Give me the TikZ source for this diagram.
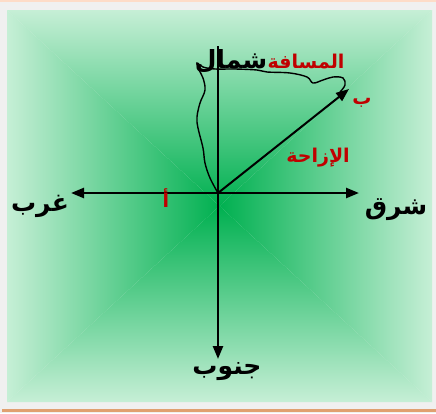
\documentclass[tikz,border=0pt]{standalone}
\usepackage{fontspec}
\usepackage{tikz}
\usetikzlibrary{arrows.meta,positioning}
\TeXXeTstate=1
\newfontfamily\arabicfont[Script=Arabic]{DejaVu Sans}
\definecolor{PageGray}{HTML}{F0F0F0}
\definecolor{EdgeGreen}{HTML}{C6EFD6}
\definecolor{CoreGreen}{HTML}{00B050}
\definecolor{LabelRed}{HTML}{C00000}
\definecolor{RimTop}{HTML}{FDDCC8}
\definecolor{RimBottom}{HTML}{E0A070}
\colorlet{HalfGreen}{CoreGreen!62!EdgeGreen}

\begin{document}
\begin{tikzpicture}[
    x=1pt, y=-1pt,
    >={Triangle[length=13pt,width=10pt]},
    axis/.style={line width=2.4pt},
    compass/.style={font=\arabicfont\bfseries\fontsize{25}{27}\selectfont, text=black, inner sep=0pt},
    redlabel/.style={font=\arabicfont\bfseries\fontsize{19}{21}\selectfont, text=LabelRed, inner sep=0pt}
]
\useasboundingbox (0,0) rectangle (436,413);
\fill[PageGray] (0,0) rectangle (436,413);
\fill[RimTop] (0,0) rectangle (436,2);
\fill[RimBottom] (2,409) rectangle (436,412);

% green square, shaded from the middle out
\coordinate (mid) at (219.5,206);
\shade[top color=EdgeGreen, middle color=HalfGreen, bottom color=CoreGreen] (7,10) -- (432,10) -- (mid) -- cycle;
\shade[top color=CoreGreen, middle color=HalfGreen, bottom color=EdgeGreen] (7,402) -- (432,402) -- (mid) -- cycle;
\shade[left color=EdgeGreen, middle color=HalfGreen, right color=CoreGreen] (7,10) -- (7,402) -- (mid) -- cycle;
\shade[left color=CoreGreen, middle color=HalfGreen, right color=EdgeGreen] (432,10) -- (432,402) -- (mid) -- cycle;

\coordinate (o) at (218,193);
\coordinate (n) at (218,46);
\coordinate (s) at (218,359);
\coordinate (w) at (71,193);
\coordinate (e) at (359,193);
\coordinate (b) at (349,89);

% path walked
\draw[line width=1.4pt, line cap=round] plot[smooth, tension=0.6] coordinates {
    (o) (210,178) (205,163) (203,148) (198,128) (197,117) (200,103) (205,90)
    (203,78) (199,70) (197,63) (203,67) (215,69) (235,69) (257,70) (267,72)
    (290,73) (307,77) (313,83) (323,80) (333,77) (343,78) (345,85) (340,92)};

\draw[axis] (o) -- (n);
\draw[axis, ->] (o) -- (s);
\draw[axis, ->] (o) -- (w);
\draw[axis, ->] (o) -- (e);
\draw[line width=2pt, ->] (o) -- (b);

\node[compass] (north) at (231,61) {\beginR شمال\endR};
\node[compass] (south) at (227,372) {\beginR جنوب\endR};
\node[compass] (west) at (40,206) {\beginR غرب\endR};
\node[compass] (east) at (396,210) {\beginR شرق\endR};

\node[redlabel] (dist) at (306,62) {\beginR المسافة\endR};
\node[redlabel] (endpt) at (362,103) {\beginR ب\endR};
\node[redlabel] (disp) at (318,158) {\beginR الإزاحة\endR};
\node[redlabel] (start) at (166,198) {\beginR أ\endR};
\end{tikzpicture}
\end{document}
